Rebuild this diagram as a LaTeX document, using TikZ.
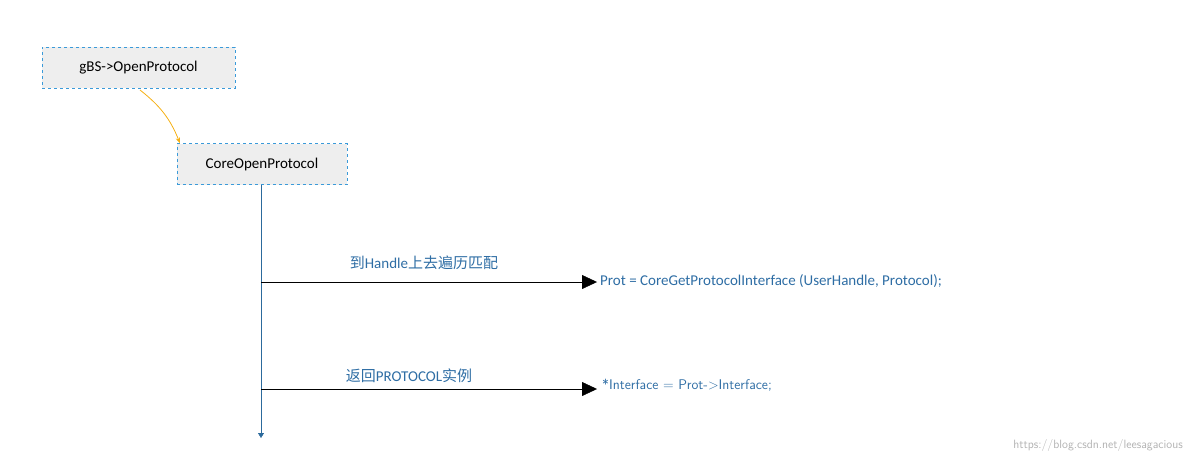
\documentclass[tikz,border=0pt]{standalone}
\usepackage{fontspec}
\setmainfont{Carlito}
\newfontfamily\cjk{Noto Sans CJK SC}
\usetikzlibrary{arrows.meta}
\definecolor{txtblue}{HTML}{2E6DA4}
\definecolor{boxblue}{HTML}{3A9AD9}
\definecolor{boxfill}{HTML}{EEEEEE}
\definecolor{linec}{HTML}{2C6A9C}
\definecolor{orangec}{HTML}{F5B014}
\begin{document}
\begin{tikzpicture}[x=1pt,y=-1pt,
  boxnode/.style={draw=boxblue,dashed,fill=boxfill,minimum height=41pt,inner sep=0pt,font=\fontsize{15}{18}\selectfont},
  lbl/.style={text=txtblue,font=\fontsize{15}{18}\selectfont,inner sep=0pt},
  msg/.style={draw=black,-{Triangle[length=15pt,width=14pt]}}]
\useasboundingbox (0,0) rectangle (1192,464);
\node[boxnode,minimum width=193pt] (a) at (138.5,67.5) {gBS->OpenProtocol};
\node[boxnode,minimum width=170pt] (b) at (262,164) {CoreOpenProtocol};
\draw[orangec,thick,-{Stealth[length=6pt]}] (140,90) to[bend left=15] (b.north west -| 180,144);
\coordinate (top) at (261,184);
\coordinate (bot) at (261,438);
\draw[linec,-{Triangle[length=5pt,width=6pt]}] (b.south -| top) -- (bot);
\coordinate (s1) at (261,282);
\coordinate (e1) at (597,282);
\coordinate (s2) at (261,389);
\coordinate (e2) at (597,389);
\draw[msg] (s1) -- (e1);
\draw[msg] (s2) -- (e2);
\node[lbl,anchor=west] (t1) at (600,281) {Prot = CoreGetProtocolInterface (UserHandle, Protocol);};
\node[lbl,anchor=west,font=\sffamily\fontsize{14}{17}\selectfont] (t2) at (602,385) {*Interface = Prot->Interface;};
\node[lbl] (l1) at (424,263) {\cjk 到\rmfamily Handle\cjk 上去遍历匹配};
\node[lbl] (l2) at (409,376) {\cjk 返回\rmfamily PROTOCOL\cjk 实例};
\node[text=gray!60,anchor=east,font=\sffamily\fontsize{12}{14}\selectfont,inner sep=0pt] (w) at (1183,445) {https://blog.csdn.net/leesagacious};
\end{tikzpicture}
\end{document}
